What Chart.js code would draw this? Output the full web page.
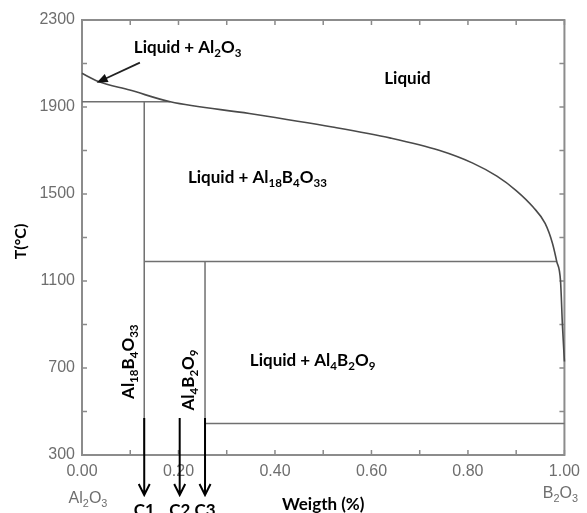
<!DOCTYPE html>
<html><head><meta charset="utf-8">
<script src="https://cdn.jsdelivr.net/npm/chart.js@4.4.1/dist/chart.umd.min.js"></script>
<style>html,body{margin:0;padding:0;background:#fff;}#wrap{width:587px;height:513px;}</style>
</head><body><div id="wrap"><canvas id="c" width="587" height="513"></canvas></div>
<script>
// ---- data ----
const liquidusX = [0, 0.034, 0.099, 0.183, 0.347, 0.519, 0.64, 0.74, 0.81, 0.86, 0.90, 0.935, 0.96, 0.975, 0.984, 0.992, 0.996, 1.0];
const liquidusT = [2055, 2017, 1978, 1924, 1870, 1808, 1757, 1701, 1642, 1582, 1516, 1440, 1365, 1275, 1190, 1097, 890, 730];

// phase-boundary segments: (x1,T1) -> (x2,T2)
const boundX1 = [0, 0.129, 0.129, 0.255, 0.255];
const boundT1 = [1924, 1924, 1190, 1190, 445];
const boundX2 = [0.183, 0.129, 0.984, 0.255, 1.0];
const boundT2 = [1924, 300, 1190, 445, 445];

// composition markers
const arrowX = [0.129, 0.2025, 0.255];
const arrowLabels = ['C1', 'C2', 'C3'];
const arrowFromT = 470;
const arrowToT = 116;

// pointer for "Liquid + Al2O3"
const pointerX = [0.12, 0.0304];
const pointerT = [2104, 2012];

// tick labels
const xTickLabels = [0, 0.2, 0.4, 0.6, 0.8, 1.0];
const yTickLabels = [300, 700, 1100, 1500, 1900, 2300];

// region labels: text runs [text, isSubscript]
const labelAl2O3 = [['Liquid + Al',0],['2',1],['O',0],['3',1]];
const labelLiquid = [['Liquid',0]];
const labelAl18 = [['Liquid + Al',0],['18',1],['B',0],['4',1],['O',0],['33',1]];
const labelAl4 = [['Liquid + Al',0],['4',1],['B',0],['2',1],['O',0],['9',1]];
const vlabelAl18 = [['Al',0],['18',1],['B',0],['4',1],['O',0],['33',1]];
const vlabelAl4 = [['Al',0],['4',1],['B',0],['2',1],['O',0],['9',1]];
const endLeft = [['Al',0],['2',1],['O',0],['3',1]];
const endRight = [['B',0],['2',1],['O',0],['3',1]];
const xTitle = 'Weigth (%)';
const yTitle = 'T(°C)';

// ---- styles / placement ----
const BOLD = 'Lato, "Open Sans", sans-serif';
const PLAIN = '"Liberation Sans", Arial, sans-serif';
const regionPlacement = [
  {parts: labelAl2O3, x: 0.219, t: 2177},
  {parts: labelLiquid, x: 0.6746, t: 2036},
  {parts: labelAl18, x: 0.3636, t: 1580},
  {parts: labelAl4, x: 0.478, t: 737}
];
const vPlacement = [
  {parts: vlabelAl18, x: 0.095, t: 729},
  {parts: vlabelAl4, x: 0.22, t: 645}
];

function runsWidth(ctx, parts, size, family, weight) {
  let w = 0;
  for (const [t, sub] of parts) {
    ctx.font = `${weight} ${sub ? size * 0.68 : size}px ${family}`;
    w += ctx.measureText(t).width;
  }
  return w;
}
function drawRuns(ctx, parts, cx, baseY, size, family, weight, color) {
  const w = runsWidth(ctx, parts, size, family, weight);
  let x = cx - w / 2;
  ctx.fillStyle = color;
  ctx.textAlign = 'left';
  ctx.textBaseline = 'alphabetic';
  for (const [t, sub] of parts) {
    ctx.font = `${weight} ${sub ? size * 0.68 : size}px ${family}`;
    ctx.fillText(t, x, baseY + (sub ? size * 0.24 : 0));
    x += ctx.measureText(t).width;
  }
}

const decor = {
  id: 'decor',
  beforeDatasetsDraw(chart) {
    const {ctx, chartArea: a, scales: {x, y}} = chart;
    ctx.save();
    // inward ticks
    ctx.strokeStyle = '#8a8a8a';
    ctx.lineWidth = 1.5;
    ctx.beginPath();
    for (let v = 300; v <= 2300; v += 200) {
      const py = y.getPixelForValue(v);
      ctx.moveTo(a.left, py); ctx.lineTo(a.left + 5, py);
      ctx.moveTo(a.right, py); ctx.lineTo(a.right - 5, py);
    }
    for (let i = 0; i <= 10; i++) {
      const px = x.getPixelForValue(i / 10);
      ctx.moveTo(px, a.top); ctx.lineTo(px, a.top + 5);
      ctx.moveTo(px, a.bottom); ctx.lineTo(px, a.bottom - 5);
    }
    ctx.stroke();
    // frame
    ctx.strokeStyle = '#8c8c8c';
    ctx.lineWidth = 2;
    ctx.strokeRect(a.left, a.top, a.right - a.left, a.bottom - a.top);
    ctx.restore();
  },
  afterDatasetsDraw(chart) {
    const {ctx, chartArea: a, scales: {x, y}} = chart;
    ctx.save();
    // pointer arrow
    const p0x = x.getPixelForValue(pointerX[0]), p0y = y.getPixelForValue(pointerT[0]);
    const p1x = x.getPixelForValue(pointerX[1]), p1y = y.getPixelForValue(pointerT[1]);
    const ang = Math.atan2(p1y - p0y, p1x - p0x);
    ctx.strokeStyle = '#222'; ctx.fillStyle = '#111'; ctx.lineWidth = 1.8;
    ctx.beginPath(); ctx.moveTo(p0x, p0y);
    ctx.lineTo(p1x - 7 * Math.cos(ang), p1y - 7 * Math.sin(ang)); ctx.stroke();
    ctx.beginPath();
    ctx.moveTo(p1x, p1y);
    ctx.lineTo(p1x - 11 * Math.cos(ang) + 4.5 * Math.sin(ang), p1y - 11 * Math.sin(ang) - 4.5 * Math.cos(ang));
    ctx.lineTo(p1x - 11 * Math.cos(ang) - 4.5 * Math.sin(ang), p1y - 11 * Math.sin(ang) + 4.5 * Math.cos(ang));
    ctx.closePath(); ctx.fill();

    // composition arrows
    ctx.strokeStyle = '#000'; ctx.lineWidth = 2;
    arrowX.forEach((v, i) => {
      const px = x.getPixelForValue(v);
      const top = y.getPixelForValue(arrowFromT), bot = y.getPixelForValue(arrowToT);
      ctx.beginPath();
      ctx.moveTo(px, top); ctx.lineTo(px, bot);
      ctx.moveTo(px - 5.5, bot - 11); ctx.lineTo(px, bot); ctx.lineTo(px + 5.5, bot - 11);
      ctx.stroke();
      drawRuns(ctx, [[arrowLabels[i], 0]], px, bot + 21, 17, BOLD, 'bold', '#000');
    });

    // region labels
    for (const r of regionPlacement) {
      drawRuns(ctx, r.parts, x.getPixelForValue(r.x), y.getPixelForValue(r.t) + 17 * 0.36, 17, BOLD, 'bold', '#000');
    }
    for (const r of vPlacement) {
      ctx.save();
      ctx.translate(x.getPixelForValue(r.x), y.getPixelForValue(r.t));
      ctx.rotate(-Math.PI / 2);
      drawRuns(ctx, r.parts, 0, 17 * 0.36, 17, BOLD, 'bold', '#000');
      ctx.restore();
    }

    // end-member names under x axis
    drawRuns(ctx, endLeft, x.getPixelForValue(0) + 6, 503, 16, PLAIN, 'normal', '#6e6e6e');
    drawRuns(ctx, endRight, x.getPixelForValue(1) - 4, 498, 16, PLAIN, 'normal', '#6e6e6e');

    // axis titles
    drawRuns(ctx, [[xTitle, 0]], (a.left + a.right) / 2, 510, 17, BOLD, 'bold', '#000');
    ctx.save();
    ctx.translate(20, (a.top + a.bottom) / 2 + 4);
    ctx.rotate(-Math.PI / 2);
    drawRuns(ctx, [[yTitle, 0]], 0, 16 * 0.36, 16, BOLD, 'bold', '#000');
    ctx.restore();
    ctx.restore();
  }
};

const lineStyle = {showLine: true, pointRadius: 0, pointHoverRadius: 0, fill: false, clip: false};
const datasets = [
  Object.assign({data: liquidusX.map((v, i) => ({x: v, y: liquidusT[i]})), borderColor: '#4a4a4a', borderWidth: 1.6, cubicInterpolationMode: 'monotone'}, lineStyle)
].concat(boundX1.map((v, i) => Object.assign({
  data: [{x: v, y: boundT1[i]}, {x: boundX2[i], y: boundT2[i]}],
  borderColor: '#707070', borderWidth: 1.5
}, lineStyle)));

new Chart(document.getElementById('c'), {
  type: 'scatter',
  data: {datasets},
  options: {
    responsive: false,
    animation: false,
    events: [],
    layout: {padding: {top: 20, right: 21, left: 0, bottom: 0}},
    plugins: {legend: {display: false}, tooltip: {enabled: false}},
    scales: {
      x: {
        type: 'linear', min: 0, max: 1,
        afterFit(s) { s.height = 58; },
        grid: {display: false, drawTicks: false},
        border: {display: false},
        ticks: {
          stepSize: 0.2, padding: 7, color: '#6e6e6e',
          font: {family: PLAIN, size: 16},
          callback: v => xTickLabels.some(t => Math.abs(t - v) < 1e-6) ? Number(v).toFixed(2) : ''
        }
      },
      y: {
        type: 'linear', min: 300, max: 2300,
        afterFit(s) { s.width = 82; },
        grid: {display: false, drawTicks: false},
        border: {display: false},
        ticks: {
          stepSize: 400, padding: 7, color: '#6e6e6e',
          font: {family: PLAIN, size: 16},
          callback: v => yTickLabels.includes(v) ? String(v) : ''
        }
      }
    }
  },
  plugins: [decor]
});
</script>
</body></html>
